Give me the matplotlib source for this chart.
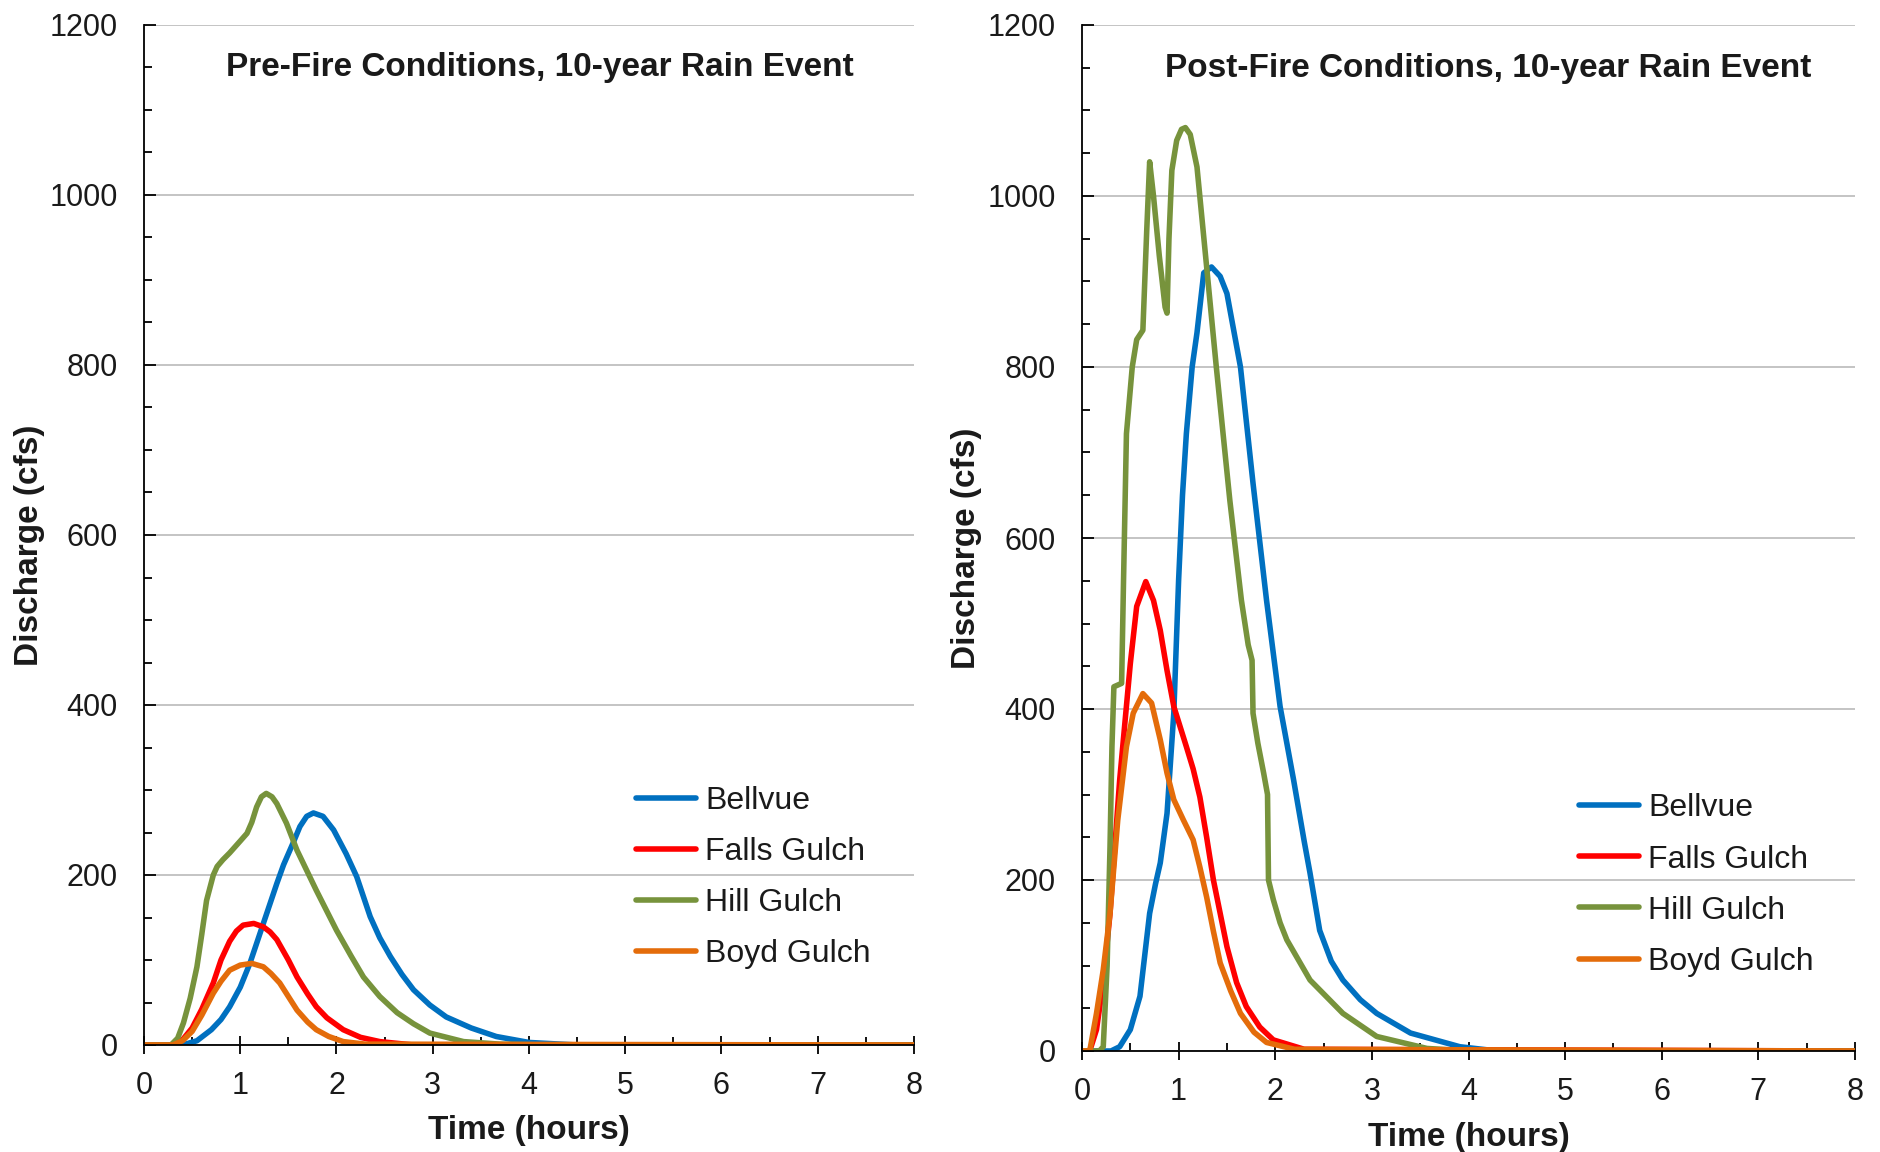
import matplotlib
matplotlib.use("Agg")
import matplotlib.pyplot as plt
from matplotlib.ticker import MultipleLocator

plt.rcParams["font.family"] = ["Liberation Sans", "DejaVu Sans"]

# ---------------------------------------------------------------------------
# Data (time in hours, discharge in cfs)
# ---------------------------------------------------------------------------
series_names = ["Bellvue", "Falls Gulch", "Hill Gulch", "Boyd Gulch"]
series_colors = ["#0070C0", "#FF0000", "#77933C", "#E46C0A"]

# Pre-fire
pre_bellvue_t = [0, 0.40, 0.55, 0.70, 0.80, 0.89, 1.00, 1.10, 1.24, 1.38, 1.45, 1.50,
                 1.55, 1.62, 1.69, 1.76, 1.86, 1.97, 2.10, 2.21, 2.35, 2.45, 2.56, 2.68,
                 2.80, 2.97, 3.14, 3.40, 3.66, 4.00, 4.50, 8]
pre_bellvue_q = [0, 0, 5, 18, 30, 45, 68, 96, 143, 190, 212, 225,
                 238, 257, 269, 273, 269, 253, 225, 198, 151, 126, 104, 83,
                 65, 47, 33, 20, 10, 3, 0, 0]

pre_falls_t = [0, 0.30, 0.40, 0.50, 0.60, 0.72, 0.80, 0.89, 0.96, 1.03, 1.14, 1.24,
               1.31, 1.38, 1.50, 1.59, 1.70, 1.79, 1.90, 2.07, 2.25, 2.45, 2.80, 8]
pre_falls_q = [0, 0, 6, 20, 42, 73, 100, 122, 134, 141, 143, 139,
               133, 124, 100, 80, 60, 45, 32, 18, 9, 4, 0, 0]

pre_hill_t = [0, 0.28, 0.35, 0.41, 0.48, 0.55, 0.60, 0.65, 0.72, 0.76, 0.82, 0.89,
              1.00, 1.07, 1.12, 1.17, 1.22, 1.27, 1.33, 1.38, 1.48, 1.59, 1.79, 2.00,
              2.15, 2.28, 2.45, 2.63, 2.80, 2.97, 3.32, 3.70, 4.20, 8]
pre_hill_q = [0, 0, 8, 26, 55, 92, 130, 170, 200, 210, 218, 226,
              240, 249, 262, 280, 292, 296, 292, 284, 261, 229, 182, 135,
              105, 80, 57, 38, 25, 14, 4, 1, 0, 0]

pre_boyd_t = [0, 0.30, 0.40, 0.50, 0.60, 0.72, 0.80, 0.89, 1.00, 1.12, 1.24, 1.32,
              1.41, 1.50, 1.59, 1.70, 1.79, 1.92, 2.07, 2.30, 8]
pre_boyd_q = [0, 0, 5, 16, 35, 61, 75, 88, 94, 96, 92, 84,
              73, 57, 41, 27, 18, 10, 4, 1, 0]

# Post-fire
post_bellvue_t = [0, 0.30, 0.39, 0.50, 0.60, 0.70, 0.76, 0.81, 0.88, 0.95, 1.00, 1.04,
                  1.08, 1.14, 1.19, 1.26, 1.34, 1.43, 1.50, 1.64, 1.77, 1.91, 2.05, 2.19,
                  2.30, 2.36, 2.46, 2.58, 2.70, 2.88, 3.05, 3.40, 3.91, 4.30, 8]
post_bellvue_q = [0, 0, 5, 25, 64, 161, 195, 220, 278, 395, 551, 650,
                  722, 800, 840, 910, 917, 906, 886, 800, 664, 527, 403, 317,
                  245, 208, 141, 105, 83, 60, 44, 21, 5, 0, 0]

post_falls_t = [0, 0.08, 0.15, 0.22, 0.29, 0.39, 0.50, 0.566, 0.66, 0.74, 0.81, 0.88,
                0.95, 1.08, 1.15, 1.22, 1.29, 1.36, 1.50, 1.60, 1.70, 1.84, 1.98, 2.30, 8]
post_falls_q = [0, 0, 25, 80, 161, 317, 453, 520, 549, 527, 492, 445,
                403, 356, 330, 297, 250, 200, 122, 80, 52, 28, 13, 2, 0]

post_hill_t = [0, 0.18, 0.22, 0.26, 0.29, 0.31, 0.33, 0.41, 0.43, 0.46, 0.52, 0.566,
               0.63, 0.67, 0.70, 0.74, 0.80, 0.86, 0.88, 0.90, 0.93, 0.98, 1.03, 1.07,
               1.12, 1.19, 1.29, 1.39, 1.53, 1.65, 1.72, 1.76, 1.77, 1.82, 1.88, 1.92,
               1.93, 1.98, 2.05, 2.12, 2.36, 2.70, 3.05, 3.57, 4.00, 8]
post_hill_q = [0, 0, 5, 100, 239, 356, 426, 430, 551, 722, 800, 832,
               843, 960, 1040, 1000, 930, 870, 863, 950, 1030, 1065, 1078, 1080,
               1072, 1034, 917, 800, 644, 527, 475, 457, 395, 360, 325, 300,
               200, 177, 150, 130, 83, 44, 17, 3, 0, 0]

post_boyd_t = [0, 0.08, 0.15, 0.22, 0.29, 0.37, 0.46, 0.53, 0.63, 0.72, 0.81, 0.88,
               0.95, 1.05, 1.15, 1.22, 1.29, 1.36, 1.43, 1.54, 1.64, 1.78, 1.91, 2.20, 8]
post_boyd_q = [0, 0, 44, 95, 161, 270, 356, 395, 418, 407, 364, 325,
               294, 270, 247, 215, 180, 140, 103, 70, 44, 22, 10, 2, 0]

pre_series = [(pre_bellvue_t, pre_bellvue_q), (pre_falls_t, pre_falls_q),
              (pre_hill_t, pre_hill_q), (pre_boyd_t, pre_boyd_q)]
post_series = [(post_bellvue_t, post_bellvue_q), (post_falls_t, post_falls_q),
               (post_hill_t, post_hill_q), (post_boyd_t, post_boyd_q)]

x_ticks = list(range(0, 9))
y_ticks = list(range(0, 1201, 200))

TEXT = "#1a1a1a"


def draw_panel(ax, series, title, title_x, legend_anchor):
    for (t, q), name, color in zip(series, series_names, series_colors):
        ax.plot(t, q, color=color, lw=4, label=name, solid_capstyle="round",
                solid_joinstyle="round")

    ax.set_xlim(0, 8)
    ax.set_ylim(0, 1200)
    ax.set_xticks(x_ticks)
    ax.set_yticks(y_ticks)
    ax.xaxis.set_minor_locator(MultipleLocator(0.5))
    ax.yaxis.set_minor_locator(MultipleLocator(50))
    ax.grid(axis="y", which="major", color="#bfbfbf", lw=1.3)
    ax.set_axisbelow(True)

    for side in ("top", "right"):
        ax.spines[side].set_visible(False)
    for side in ("left", "bottom"):
        ax.spines[side].set_linewidth(1.3)
        ax.spines[side].set_color("black")

    ax.tick_params(axis="y", which="major", direction="in", length=8.5, width=1.3,
                   pad=19, labelsize=22, labelcolor=TEXT)
    ax.tick_params(axis="y", which="minor", direction="in", length=6, width=1.3)
    ax.tick_params(axis="x", which="major", direction="inout", length=13, width=1.3,
                   pad=12, labelsize=22, labelcolor=TEXT)
    ax.tick_params(axis="x", which="minor", direction="in", length=6, width=1.3)

    ax.set_ylabel("Discharge (cfs)", fontsize=24, fontweight="bold", color=TEXT)
    ax.yaxis.set_label_coords(-0.149, 0.49)
    ax.yaxis.label.set_va("center")
    ax.set_xlabel("Time (hours)", fontsize=24, fontweight="bold", color=TEXT)
    ax.xaxis.set_label_coords(0.5, -0.084)
    ax.xaxis.label.set_va("center")

    ax.text(title_x, 0.958, title, transform=ax.transAxes, ha="center", va="center",
            fontsize=24, fontweight="bold", color=TEXT)

    ax.legend(loc="upper left", bbox_to_anchor=legend_anchor, frameon=False,
              fontsize=23, handlelength=1.87, handletextpad=0.3, labelspacing=0.66,
              borderpad=0, borderaxespad=0, labelcolor=TEXT)


fig = plt.figure(figsize=(18.81, 11.52), dpi=100)
ax_pre = fig.add_axes([144 / 1881, 1 - 1045 / 1152, 770 / 1881, 1020 / 1152])
ax_post = fig.add_axes([1082 / 1881, 1 - 1051 / 1152, 773 / 1881, 1026 / 1152])

draw_panel(ax_pre, pre_series, "Pre-Fire Conditions, 10-year Rain Event", 0.514,
           (0.639, 0.254))
draw_panel(ax_post, post_series, "Post-Fire Conditions, 10-year Rain Event", 0.525,
           (0.643, 0.251))

fig.savefig("out.png", dpi=100)
plt.close(fig)
